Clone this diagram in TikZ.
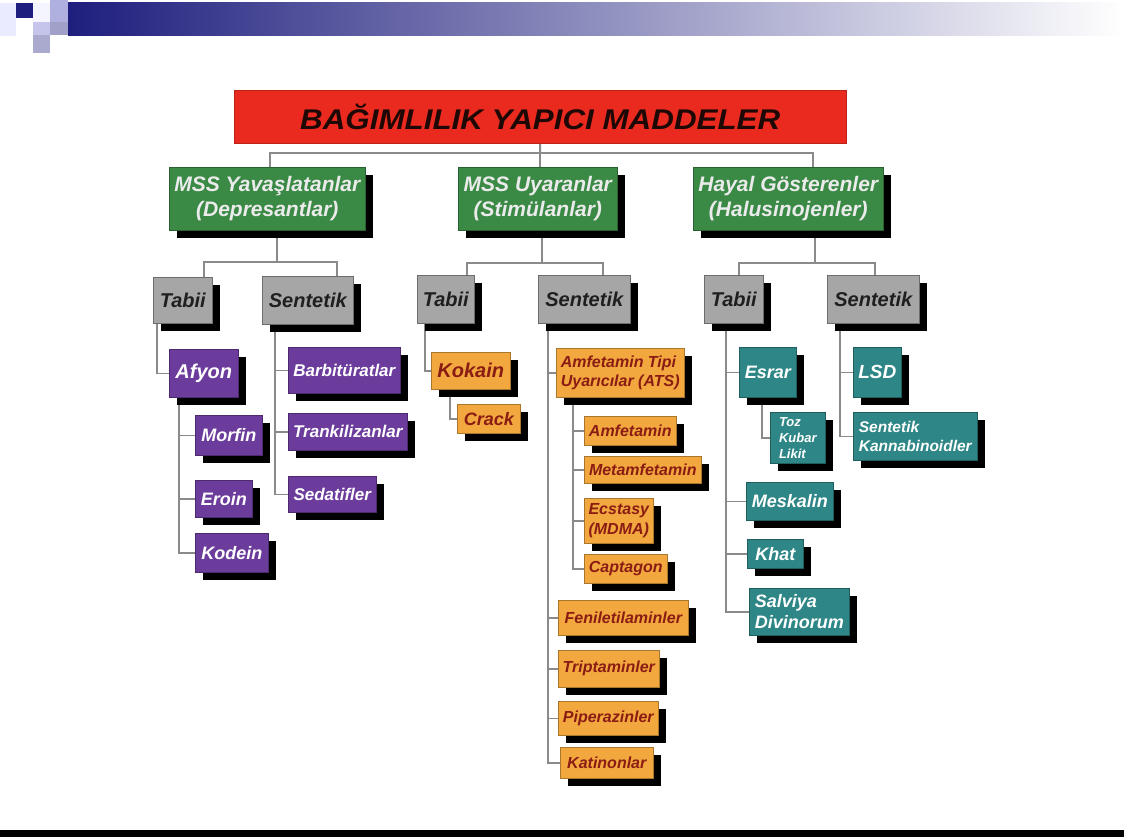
\documentclass[tikz,border=0pt]{standalone}
\usepackage{fontspec}
\setmainfont{Liberation Sans}
\newfontfamily\titlefont[FakeStretch=1.1]{Liberation Sans}
\usetikzlibrary{shadows,backgrounds}
\definecolor{barnavy}{HTML}{1E1E7E}
\definecolor{titlered}{HTML}{EA2A1E}
\definecolor{titletext}{HTML}{1E0806}
\definecolor{groupgreen}{HTML}{3A8A46}
\definecolor{kindgray}{HTML}{A6A6A6}
\definecolor{deppurple}{HTML}{6C3C9C}
\definecolor{stimorange}{HTML}{F2A83E}
\definecolor{stimtext}{HTML}{8A1C14}
\definecolor{halteal}{HTML}{2E8686}
\definecolor{linegray}{HTML}{8A8A8A}
\newcommand{\boxfont}[2]{\fontsize{#1}{#2}\selectfont\bfseries\itshape}
\tikzset{
  conn/.style={draw=linegray, line width=1.6pt},
  box/.style={rectangle, anchor=north west, inner sep=1.5pt, line width=0.6pt,
    general shadow={fill=black, shadow xshift=8pt, shadow yshift=-8pt}},
  title node/.style={rectangle, anchor=north west, fill=titlered, draw=titlered!80!black,
    text=titletext, font=\titlefont\boxfont{28.5}{30}},
  group node/.style={box, fill=groupgreen, draw=groupgreen!70!black, text=white!92!black,
    align=center, font=\boxfont{21}{25.5}},
  kind node/.style={box, fill=kindgray, draw=kindgray!65!black, text=black!88, font=\boxfont{20}{24}},
  dep node/.style={box, fill=deppurple, draw=deppurple!70!black, text=white, font=\boxfont{18}{21}},
  stim node/.style={box, fill=stimorange, draw=stimorange!70!black, text=stimtext,
    align=left, font=\boxfont{16}{19.5}},
  hal node/.style={box, fill=halteal, draw=halteal!70!black, text=white, align=left, font=\boxfont{18}{21}},
}
\begin{document}
\begin{tikzpicture}[x=1pt,y=-1pt]
  \useasboundingbox (0,0) rectangle (1124,837);
  \begin{scope}[on background layer]
    \fill[white] (0,0) rectangle (1124,837);
  \end{scope}
  % top bar
  \shade[left color=barnavy, middle color=barnavy!40!white, right color=white] (68,3) rectangle (1124,36);
  \fill[blue!8!white] (0,3) rectangle (16,36);
  \fill[barnavy] (16,3) rectangle (33,18);
  \fill[blue!4!white] (33,3) rectangle (50,22);
  \fill[blue!22!white!88!black] (50,0) rectangle (68,22);
  \fill[blue!16!white!92!black] (33,22) rectangle (50,35);
  \fill[barnavy!42!white] (50,22) rectangle (68,35);
  \fill[barnavy!38!white] (33,35) rectangle (50,53);
  % bottom bar
  \fill[black] (0,830) rectangle (1124,837);

  \node[title node, minimum width=612pt, minimum height=53pt] (title) at (234,90) {BAĞIMLILIK YAPICI MADDELER};

  \node[group node, minimum width=196pt, minimum height=63pt] (g1) at (169,167) {MSS Yavaşlatanlar\\(Depresantlar)};
  \node[group node, minimum width=159pt, minimum height=63pt] (g2) at (458,167) {MSS Uyaranlar\\(Stimülanlar)};
  \node[group node, minimum width=190pt, minimum height=63pt] (g3) at (693,167) {Hayal Gösterenler\\(Halusinojenler)};

  \node[kind node, minimum width=59pt, minimum height=46pt] (t1) at (153,277) {Tabii};
  \node[kind node, minimum width=91pt, minimum height=48pt] (s1) at (262,276) {Sentetik};
  \node[kind node, minimum width=57pt, minimum height=48pt] (t2) at (417,275) {Tabii};
  \node[kind node, minimum width=92pt, minimum height=48pt] (s2) at (538,275) {Sentetik};
  \node[kind node, minimum width=59pt, minimum height=48pt] (t3) at (704,275) {Tabii};
  \node[kind node, minimum width=92pt, minimum height=48pt] (s3) at (827,275) {Sentetik};

  % depresantlar
  \node[dep node, font=\boxfont{20}{24}, minimum width=69pt, minimum height=48pt] (afyon) at (169,349) {Afyon};
  \node[dep node, minimum width=67pt, minimum height=40pt] (morfin) at (195,415) {Morfin};
  \node[dep node, minimum width=57pt, minimum height=37pt] (eroin) at (195,480) {Eroin};
  \node[dep node, minimum width=73pt, minimum height=39pt] (kodein) at (195,533) {Kodein};
  \node[dep node, font=\boxfont{17}{20}, minimum width=112pt, minimum height=46pt] (barb) at (288,347) {Barbitüratlar};
  \node[dep node, font=\boxfont{17}{20}, minimum width=119pt, minimum height=37pt] (trank) at (288,413) {Trankilizanlar};
  \node[dep node, font=\boxfont{17}{20}, minimum width=88pt, minimum height=36pt] (sedat) at (288,476) {Sedatifler};

  % stimulanlar
  \node[stim node, font=\boxfont{20}{24}, minimum width=79pt, minimum height=37pt] (kokain) at (431,352) {Kokain};
  \node[stim node, font=\boxfont{18}{21}, minimum width=63pt, minimum height=29pt] (crack) at (457,404) {Crack};
  \node[stim node, minimum width=128pt, minimum height=49pt] (ats) at (556,348) {Amfetamin Tipi\\Uyarıcılar (ATS)};
  \node[stim node, minimum width=92pt, minimum height=29pt] (amf) at (584,416) {Amfetamin};
  \node[stim node, minimum width=117pt, minimum height=27pt] (metamf) at (584,456) {Metamfetamin};
  \node[stim node, minimum width=69pt, minimum height=45pt] (ecstasy) at (584,498) {Ecstasy\\(MDMA)};
  \node[stim node, minimum width=83pt, minimum height=29pt] (captagon) at (584,554) {Captagon};
  \node[stim node, minimum width=130pt, minimum height=35pt] (fenil) at (558,600) {Feniletilaminler};
  \node[stim node, minimum width=101pt, minimum height=37pt] (tript) at (558,650) {Triptaminler};
  \node[stim node, minimum width=100pt, minimum height=34pt] (piper) at (558,701) {Piperazinler};
  \node[stim node, minimum width=93pt, minimum height=31pt] (katin) at (560,747) {Katinonlar};

  % halusinojenler
  \node[hal node, minimum width=57pt, minimum height=50pt] (esrar) at (739,347) {Esrar};
  \node[hal node, font=\boxfont{13}{16}, minimum width=55pt, minimum height=51pt] (toz) at (770,412) {Toz\\Kubar\\Likit};
  \node[hal node, minimum width=87pt, minimum height=38pt] (meskalin) at (746,482) {Meskalin};
  \node[hal node, minimum width=56pt, minimum height=29pt] (khat) at (747,539) {Khat};
  \node[hal node, minimum width=100pt, minimum height=47pt] (salviya) at (749,588) {Salviya\\Divinorum};
  \node[hal node, font=\boxfont{19}{22}, minimum width=48pt, minimum height=50pt] (lsd) at (853,347) {LSD};
  \node[hal node, font=\boxfont{15.5}{19}, minimum width=124pt, minimum height=48pt] (kanna) at (853,412) {Sentetik\\Kannabinoidler};

  \begin{scope}[on background layer]
    \coordinate (bus) at (540,153);
    \draw[conn, line width=2pt] (title.south) -- (bus);
    \draw[conn, line width=2pt] (g1.north -| 270,0) |- (bus) -| (g3.north -| 813,0);
    \draw[conn, line width=2pt] (bus) -- (g2.north -| 540,0);

    \coordinate (j1) at (277,262);
    \coordinate (j2) at (542,263);
    \coordinate (j3) at (815,263);
    \draw[conn] (g1.south -| j1) -- (j1);
    \draw[conn] (t1.north -| 204,0) |- (j1) -| (s1.north -| 337,0);
    \draw[conn] (g2.south -| j2) -- (j2);
    \draw[conn] (t2.north -| 467,0) |- (j2) -| (s2.north -| 603,0);
    \draw[conn] (g3.south -| j3) -- (j3);
    \draw[conn] (t3.north -| 739,0) |- (j3) -| (s3.north -| 875,0);

    \draw[conn] (t1.south -| 157,0) |- (afyon.west);
    \draw[conn] (afyon.south -| 179,0) |- (kodein.west);
    \foreach \n in {morfin,eroin} \draw[conn] (\n.west -| 179,0) -- (\n.west);
    \draw[conn] (s1.south -| 275,0) |- (sedat.west);
    \foreach \n in {barb,trank} \draw[conn] (\n.west -| 275,0) -- (\n.west);

    \draw[conn] (t2.south -| 425,0) |- (kokain.west);
    \draw[conn] (kokain.south -| 450,0) |- (crack.west);
    \draw[conn] (s2.south -| 548,0) |- (katin.west);
    \foreach \n in {ats,fenil,tript,piper} \draw[conn] (\n.west -| 548,0) -- (\n.west);
    \draw[conn] (ats.south -| 573,0) |- (captagon.west);
    \foreach \n in {amf,metamf,ecstasy} \draw[conn] (\n.west -| 573,0) -- (\n.west);

    \draw[conn] (t3.south -| 726,0) |- (salviya.west);
    \foreach \n in {esrar,meskalin,khat} \draw[conn] (\n.west -| 726,0) -- (\n.west);
    \draw[conn] (esrar.south -| 762,0) |- (toz.west);
    \draw[conn] (s3.south -| 840,0) |- (kanna.west);
    \draw[conn] (lsd.west -| 840,0) -- (lsd.west);
  \end{scope}
\end{tikzpicture}
\end{document}
